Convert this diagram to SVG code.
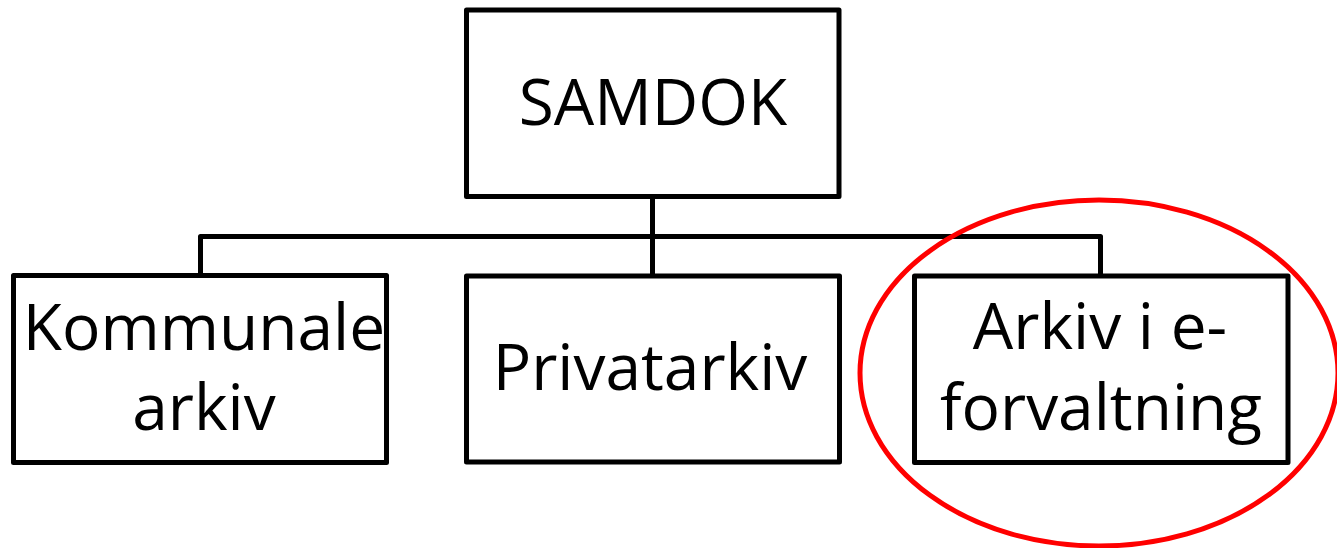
<svg xmlns="http://www.w3.org/2000/svg" width="1337" height="548" viewBox="0 0 1337 548">
<style>
.box{fill:#fff;stroke:#000;stroke-width:5;stroke-linejoin:round}
.lbl{font-family:"Open Sans","Liberation Sans",sans-serif;font-size:64px;fill:#000;text-anchor:middle}
.conn{fill:none;stroke:#000;stroke-width:5;stroke-linejoin:round}
</style>
<rect width="1337" height="548" fill="#fff"/>
<g id="connectors">
<path class="conn" d="M652.5 196.5 V276 M200.5 276 V236.5 H1100.5 V276"/>
</g>
<g id="samdok">
<rect class="box" x="466.5" y="10" width="372.5" height="186.5"/>
<text class="lbl" x="653" y="124.5">SAMDOK</text>
</g>
<g id="kommunale">
<rect class="box" x="13.5" y="275.5" width="373" height="187"/>
<text class="lbl" x="204" y="349.5">Kommunale</text>
<text class="lbl" x="204" y="429.5">arkiv</text>
</g>
<g id="privatarkiv">
<rect class="box" x="466.5" y="276" width="373" height="186"/>
<text class="lbl" x="650" y="390">Privatarkiv</text>
</g>
<g id="eforvaltning">
<rect class="box" x="914.5" y="276" width="373.5" height="186.5"/>
<text class="lbl" x="1100" y="348.5">Arkiv i e-</text>
<text class="lbl" x="1101" y="430">forvaltning</text>
</g>
<ellipse cx="1099" cy="373" rx="239" ry="173" fill="none" stroke="#f00" stroke-width="5"/>
</svg>
